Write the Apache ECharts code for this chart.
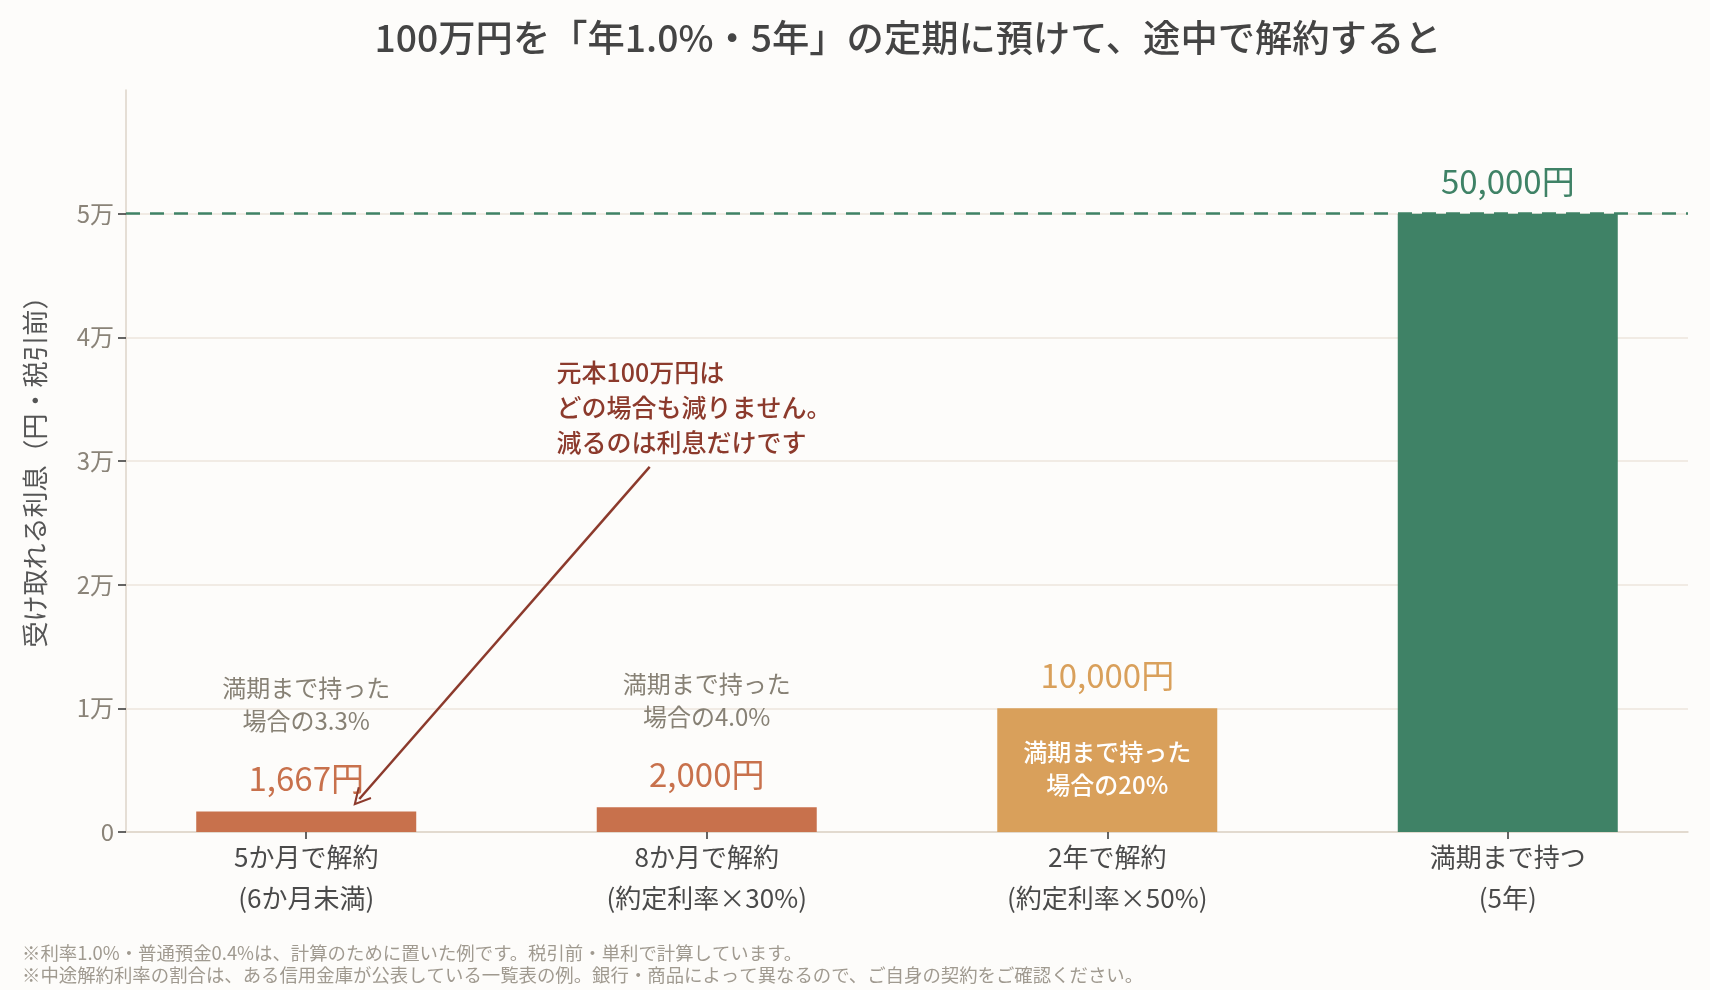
<!DOCTYPE html>
<html>
<head>
<meta charset="utf-8">
<script src="https://cdn.jsdelivr.net/npm/echarts@6/dist/echarts.min.js"></script>
<style>
html,body{margin:0;padding:0;background:#fdfcfa;}
#chart{width:1710px;height:990px;}
</style>
</head>
<body>
<div id="chart"></div>
<script>
const categories = ['5か月で解約\n(6か月未満)', '8か月で解約\n(約定利率×30%)', '2年で解約\n(約定利率×50%)', '満期まで持つ\n(5年)'];
const interest = [1667, 2000, 10000, 50000];
const valueLabels = ['1,667円', '2,000円', '10,000円', '50,000円'];
const notes = ['満期まで持った\n場合の3.3%', '満期まで持った\n場合の4.0%', '満期まで持った\n場合の20%', ''];
const barColors = ['#c8714c', '#c8714c', '#d9a05b', '#3f8266'];
const yTicks = [0, 10000, 20000, 30000, 40000, 50000];
const yTickLabels = ['0', '1万', '2万', '3万', '4万', '5万'];
const maturityInterest = 50000;
const annotationText = '元本100万円は\nどの場合も減りません。\n減るのは利息だけです';
const annotationAt = [0.625, 38550];
const arrowFrom = [0.8575, 29530];
const arrowTo = [0.1325, 2670];
const footnotes = ['※利率1.0%・普通預金0.4%は、計算のために置いた例です。税引前・単利で計算しています。',
  '※中途解約利率の割合は、ある信用金庫が公表している一覧表の例。銀行・商品によって異なるので、ご自身の契約をご確認ください。'];

const FONT = "'Noto Sans CJK JP', 'Noto Sans', sans-serif";
const chart = echarts.init(document.getElementById('chart'));

const barData = interest.map((v, i) => ({
  value: [i, v],
  itemStyle: { color: barColors[i] },
  label: { color: barColors[i] }
}));

const notePoints = [];
notes.forEach((n, i) => {
  if (!n) return;
  if (i === 2) {
    notePoints.push({
      coord: [i, interest[i] / 2],
      label: { show: true, position: 'inside', offset: [0, -2], formatter: n, color: '#ffffff', fontSize: 24, lineHeight: 33, fontWeight: 500, fontFamily: FONT }
    });
  } else {
    notePoints.push({
      coord: [i, interest[i]],
      label: { show: true, position: 'top', distance: 74, formatter: n, color: '#878175', fontSize: 24, lineHeight: 33, fontFamily: FONT }
    });
  }
});
notePoints.push({
  coord: annotationAt,
  label: { show: true, position: [0, 0], align: 'left', verticalAlign: 'top', formatter: annotationText, color: '#8c3a2c', fontSize: 25, lineHeight: 35, fontWeight: 500, fontFamily: FONT }
});

chart.setOption({
  animation: false,
  backgroundColor: '#fdfcfa',
  textStyle: { fontFamily: FONT },
  title: {
    text: '100万円を「年1.0%・5年」の定期に預けて、途中で解約すると',
    left: 903, top: 14, textAlign: 'center',
    textStyle: { fontSize: 37.3, fontWeight: 500, color: '#444444', fontFamily: FONT }
  },
  graphic: footnotes.map((t, i) => ({
    type: 'text', left: 22, top: 944 + i * 22,
    style: { text: t, fill: '#a09a90', fontSize: 18.4, fontFamily: FONT }
  })),
  grid: { left: 126, right: 22, top: 90, bottom: 158, containLabel: false },
  xAxis: {
    type: 'value', min: -0.45, max: 3.45,
    axisLine: { show: true, onZero: false, lineStyle: { color: '#ddd5c8', width: 1.5 } },
    axisTick: { show: true, customValues: [0, 1, 2, 3], length: 7, lineStyle: { color: '#333333', width: 1.5 } },
    axisLabel: {
      customValues: [0, 1, 2, 3],
      formatter: v => categories[Math.round(v)],
      color: '#4a4a4a', fontSize: 26, lineHeight: 41, margin: 5, fontFamily: FONT
    },
    splitLine: { show: false }
  },
  yAxis: {
    type: 'value', min: 0, max: 60000, interval: 10000,
    name: '受け取れる利息（円・税引前）', nameLocation: 'middle', nameGap: 78,
    nameTextStyle: { color: '#555555', fontSize: 26, fontFamily: FONT, padding: [0, 9, 0, 0] },
    axisLine: { show: true, onZero: false, lineStyle: { color: '#ddd5c8', width: 1.5 } },
    axisTick: { show: true, customValues: yTicks, length: 8, lineStyle: { color: '#333333', width: 1.5 } },
    axisLabel: {
      customValues: yTicks,
      formatter: v => { const k = yTicks.indexOf(v); return k >= 0 ? yTickLabels[k] : ''; },
      color: '#8a8378', fontSize: 24, margin: 12, fontFamily: FONT
    },
    splitLine: { show: true, lineStyle: { color: ['#ece6dc', '#ece6dc', '#ece6dc', '#ece6dc', '#ece6dc', '#ece6dc', 'rgba(0,0,0,0)'], width: 1.5 } }
  },
  series: [{
    type: 'bar',
    barWidth: 220,
    data: barData,
    label: {
      show: true, position: 'top', distance: 16,
      formatter: p => valueLabels[p.dataIndex],
      fontSize: 33, fontFamily: FONT
    },
    markLine: {
      silent: true,
      symbol: ['none', 'none'],
      label: { show: false },
      data: [
        { yAxis: maturityInterest, lineStyle: { color: '#3f8266', width: 2.5, type: [14, 10] } },
        [
          { coord: arrowFrom, symbol: 'none', lineStyle: { color: '#8c3a2c', width: 2.5, type: 'solid' } },
          { coord: arrowTo, symbol: 'path://M0,0 L7,13 L5.6,13.8 L0,3.4 L-5.6,13.8 L-7,13 Z', symbolSize: [18, 18] }
        ]
      ]
    },
    markPoint: {
      symbol: 'circle', symbolSize: 0,
      itemStyle: { color: 'rgba(0,0,0,0)' },
      data: notePoints
    }
  }]
});
</script>
</body>
</html>
